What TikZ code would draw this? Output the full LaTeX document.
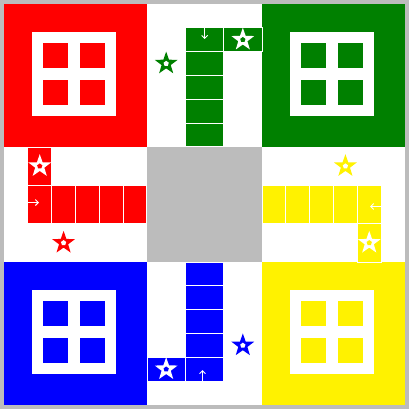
\documentclass[tikz,border=0pt]{standalone}
\usetikzlibrary{arrows.meta,shapes.geometric}
\definecolor{ludogreen}{RGB}{0,128,0}
\definecolor{ludogray}{RGB}{188,188,188}
\tikzset{cell/.style={draw=white,line width=1pt},spot/.style={star,star points=5,star point ratio=2.5,minimum size=24pt,inner sep=0pt},core/.style={regular polygon,regular polygon sides=5,minimum size=5.5pt,inner sep=0pt},arr/.style={white,line width=0.9pt,-{Straight Barb[length=3pt,width=6pt]}}}
\begin{document}
\begin{tikzpicture}[x=1pt,y=-1pt]
\useasboundingbox (0,0) rectangle (409,409);
\fill[ludogray] (0,0) rectangle (409,409);
\fill[white] (4,4) rectangle (405,405);
\fill[ludogray] (147,147) rectangle (262,262);
\foreach \ox/\oy/\c in {4/4/red,262/4/ludogreen,4/262/blue,262/262/yellow}{
\fill[\c] (\ox,\oy) rectangle +(143,143);
\fill[white] (\ox+28,\oy+28) rectangle +(84,84);
\foreach \dx in {39,76}{\foreach \dy in {39,76}{\fill[\c] (\ox+\dx,\oy+\dy) rectangle +(25,25);}}
}
\foreach \i in {1,...,5}{
\draw[cell,fill=ludogreen] (185.33,4+\i*23.83) rectangle +(38.33,23.83);
\draw[cell,fill=red] (4+\i*23.83,185.33) rectangle +(23.83,38.33);
}
\foreach \i in {0,...,4}{
\draw[cell,fill=yellow] (262+\i*23.83,185.33) rectangle +(23.83,38.33);
\draw[cell,fill=blue] (185.33,262+\i*23.83) rectangle +(38.33,23.83);
}
\draw[cell,fill=ludogreen] (223.67,27.83) rectangle +(38.33,23.83);
\draw[cell,fill=red] (27.83,147) rectangle +(23.83,38.33);
\draw[cell,fill=yellow] (357.33,223.67) rectangle +(23.83,38.33);
\draw[cell,fill=blue] (147,357.33) rectangle +(38.33,23.83);
\foreach \n/\x/\y/\c in {gcell/242.83/39.75/ludogreen,rcell/39.75/166.17/red,ycell/369.25/242.83/yellow,bcell/166.17/369.25/blue}{
\node[spot,fill=white] (\n) at (\x,\y) {};
\node[core,fill=\c] at (\n) {};
}
\foreach \n/\x/\y/\c in {gsafe/166.17/63.58/ludogreen,rsafe/63.58/242.83/red,ysafe/345.42/166.17/yellow,bsafe/242.83/345.42/blue}{
\node[spot,fill=\c] (\n) at (\x,\y) {};
\node[core,fill=white] at (\n) {};
}
\draw[arr] (204.7,28) -- (204.7,39);
\draw[arr] (28,202.5) -- (39,202.5);
\draw[arr] (381,206.5) -- (370,206.5);
\draw[arr] (202.5,381) -- (202.5,370);
\end{tikzpicture}
\end{document}
